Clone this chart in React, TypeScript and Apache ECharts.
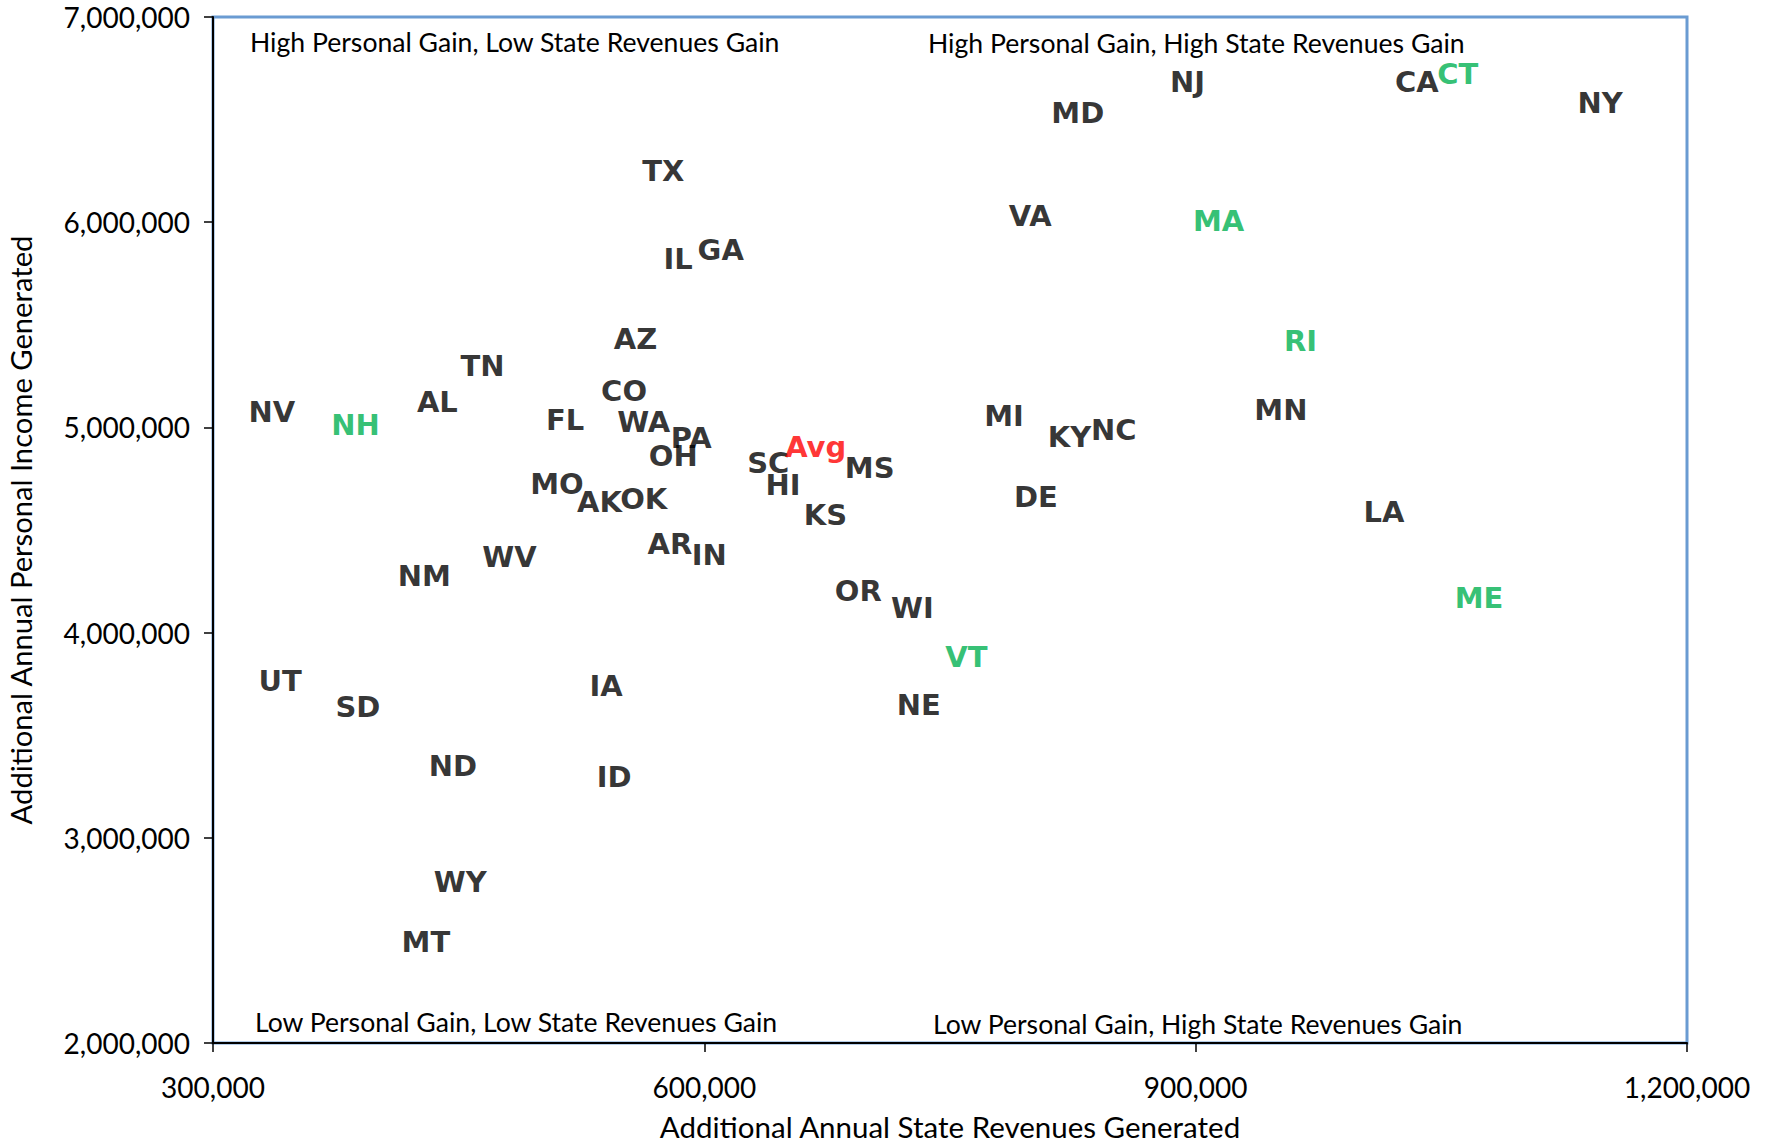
import React, { useEffect, useRef } from "react";
import * as echarts from "echarts";

// Black-labelled states: [name, state revenues, personal income]
const blackStates: [string, number, number][] = [
  ["NV", 336000, 5074000],
  ["AL", 437000, 5124000],
  ["TN", 464500, 5300000],
  ["FL", 515000, 5035000],
  ["CO", 551000, 5179000],
  ["AZ", 558000, 5433000],
  ["WA", 563000, 5024000],
  ["PA", 592000, 4947000],
  ["OH", 581000, 4859000],
  ["MO", 510000, 4726000],
  ["AK", 536000, 4638000],
  ["OK", 563000, 4649000],
  ["TX", 575000, 6249000],
  ["IL", 584000, 5819000],
  ["GA", 610000, 5863000],
  ["AR", 579000, 4434000],
  ["IN", 603000, 4379000],
  ["SC", 639000, 4826000],
  ["HI", 648000, 4721000],
  ["MS", 701000, 4804000],
  ["KS", 674000, 4572000],
  ["NM", 429000, 4274000],
  ["WV", 481000, 4368000],
  ["OR", 694000, 4202000],
  ["WI", 727000, 4119000],
  ["NE", 731000, 3645000],
  ["UT", 341000, 3766000],
  ["SD", 388500, 3639000],
  ["IA", 540000, 3738000],
  ["ND", 446500, 3352000],
  ["ID", 545000, 3297000],
  ["WY", 451000, 2784000],
  ["MT", 430000, 2491000],
  ["MI", 783000, 5057000],
  ["KY", 823000, 4953000],
  ["NC", 850000, 4986000],
  ["DE", 802500, 4660000],
  ["VA", 799000, 6029000],
  ["MD", 828000, 6531000],
  ["NJ", 895000, 6685000],
  ["CA", 1035000, 6685000],
  ["NY", 1147000, 6581000],
  ["MN", 952000, 5085000],
  ["LA", 1015000, 4588000],
];

// Green-labelled states
const greenStates: [string, number, number][] = [
  ["NH", 387000, 5013000],
  ["VT", 760000, 3882000],
  ["MA", 914000, 6007000],
  ["CT", 1060000, 6724000],
  ["RI", 964000, 5422000],
  ["ME", 1073000, 4169000],
];

// Average point
const average: [string, number, number][] = [["Avg", 668000, 4903000]];

const xTicks = { min: 300000, max: 1200000, interval: 300000 };
const yTicks = { min: 2000000, max: 7000000, interval: 1000000 };

const quadrantLabels = [
  "High Personal Gain, Low State Revenues Gain",
  "High Personal Gain, High State Revenues Gain",
  "Low Personal Gain, Low State Revenues Gain",
  "Low Personal Gain, High State Revenues Gain",
];

const textFont = "Lato, 'Open Sans', sans-serif";
const fmt = (v: number) => v.toLocaleString("en-US");

function toSeriesData(rows: [string, number, number][]) {
  return rows.map(([name, x, y]) => ({ name, value: [x, y] }));
}

function labelSeries(rows: [string, number, number][], color: string) {
  return {
    type: "scatter",
    symbolSize: 0,
    data: toSeriesData(rows),
    label: {
      show: true,
      position: "inside",
      formatter: (p: any) => p.name,
      color,
      fontFamily: "'DejaVu Sans'",
      fontWeight: "bold",
      fontSize: 29,
    },
    emphasis: { disabled: true },
  };
}

export default function App() {
  const ref = useRef<HTMLDivElement>(null);
  useEffect(() => {
    if (!ref.current) return;
    const chart = echarts.init(ref.current, null, { renderer: "svg" });
    const qStyle = { fontFamily: textFont, fontSize: 26.6, fill: "#000" };
    chart.setOption({
      animation: false,
      backgroundColor: "#fff",
      grid: {
        left: 213,
        right: 88,
        top: 17,
        bottom: 99,
        outerBoundsMode: "none",
        containLabel: false,
        show: true,
        borderColor: "#6A9BD2",
        borderWidth: 3,
        backgroundColor: "transparent",
      },
      xAxis: {
        type: "value",
        min: xTicks.min,
        max: xTicks.max,
        interval: xTicks.interval,
        name: "Additional Annual State Revenues Generated",
        nameLocation: "middle",
        nameGap: 68,
        nameTextStyle: { fontFamily: textFont, fontSize: 29.5, color: "#000" },
        axisLine: { show: true, lineStyle: { color: "#000", width: 2 } },
        axisTick: { show: true, length: 9, lineStyle: { color: "#000", width: 1.5 } },
        axisLabel: {
          formatter: (v: number) => fmt(v),
          fontFamily: textFont,
          fontSize: 28,
          color: "#000",
          margin: 30,
        },
        splitLine: { show: false },
      },
      yAxis: {
        type: "value",
        min: yTicks.min,
        max: yTicks.max,
        interval: yTicks.interval,
        name: "Additional Annual Personal Income Generated",
        nameLocation: "middle",
        nameGap: 178,
        nameTextStyle: { fontFamily: textFont, fontSize: 29.2, color: "#000" },
        axisLine: { show: true, lineStyle: { color: "#000", width: 2 } },
        axisTick: { show: true, length: 9, lineStyle: { color: "#000", width: 1.5 } },
        axisLabel: {
          formatter: (v: number) => fmt(v),
          fontFamily: textFont,
          fontSize: 28,
          color: "#000",
          margin: 23,
        },
        splitLine: { show: false },
      },
      graphic: [
        { type: "text", left: 250, top: 28, style: { text: quadrantLabels[0], ...qStyle } },
        { type: "text", left: 928, top: 29, style: { text: quadrantLabels[1], ...qStyle } },
        { type: "text", left: 255, top: 1008, style: { text: quadrantLabels[2], ...qStyle } },
        { type: "text", left: 933, top: 1010, style: { text: quadrantLabels[3], ...qStyle } },
      ],
      series: [
        labelSeries(blackStates, "#000000"),
        labelSeries(greenStates, "#00B050"),
        labelSeries(average, "#FF0000"),
      ],
    });
    return () => chart.dispose();
  }, []);
  return (
    <div
      ref={ref}
      style={{ position: "fixed", left: 0, top: 0, width: 1775, height: 1142 }}
    />
  );
}
